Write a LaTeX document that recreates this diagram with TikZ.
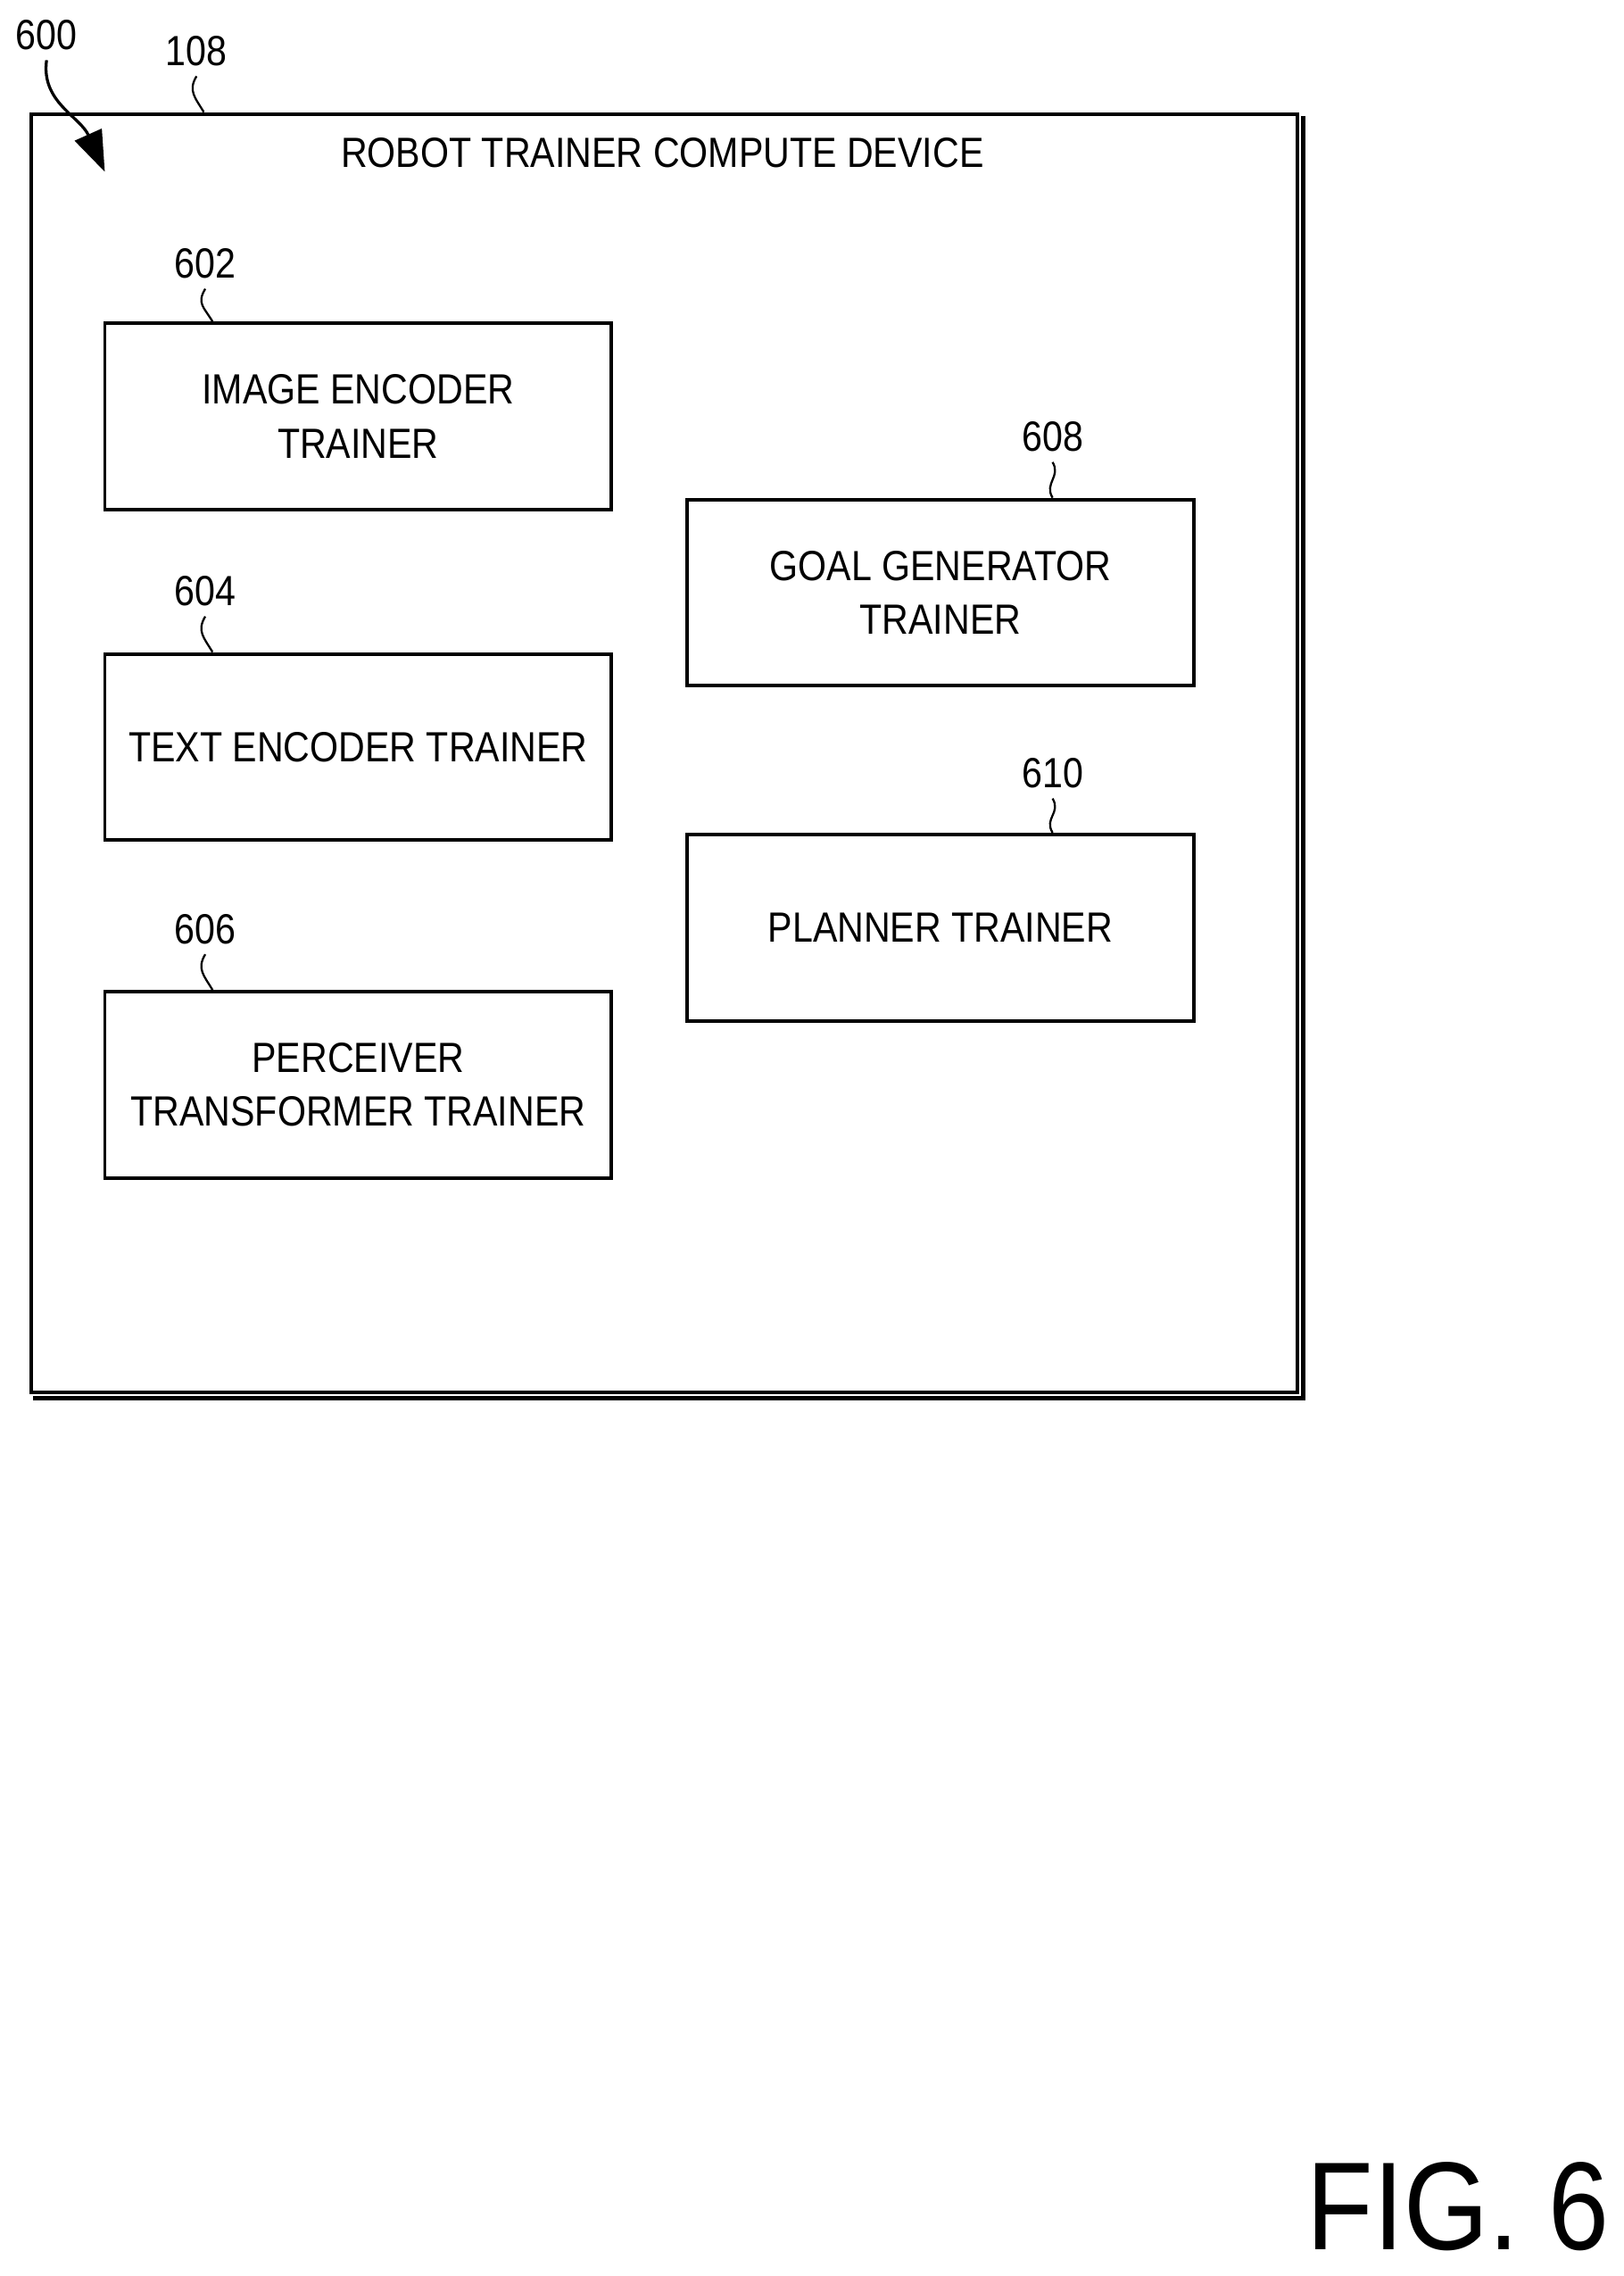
\documentclass[tikz,border=0pt]{standalone}
\usepackage{fontspec}
\setmainfont[FakeStretch=0.87]{Liberation Sans}
\usetikzlibrary{arrows.meta}
\begin{document}
\begin{tikzpicture}[x=0.5pt,y=-0.5pt,
  box/.style={draw,line width=1.2pt,minimum width=174pt,minimum height=64pt,align=center,inner sep=1pt,font=\fontsize{14.5}{18.5}\selectfont,
    append after command={[draw,line width=1.2pt] ([xshift=1.5pt,yshift=-1.5pt]\tikzlastnode.north east) -- ([xshift=1.5pt,yshift=-1.5pt]\tikzlastnode.south east) -- ([xshift=1.5pt,yshift=-1.5pt]\tikzlastnode.south west)}},
  lbl/.style={font=\fontsize{14.5}{16}\selectfont},
  sq/.style={line width=0.7pt}]
\useasboundingbox (0,0) rectangle (1115,1563);
\node[draw,line width=1.3pt,minimum width=435pt,minimum height=439pt,anchor=north west] (dev) at (20,77) {};
\draw[line width=1.3pt] ([xshift=1.3pt,yshift=-1.3pt]dev.north east) -- ([xshift=1.3pt,yshift=-1.3pt]dev.south east) -- ([xshift=1.3pt,yshift=-1.3pt]dev.south west);
\node[lbl] (title) at (455,105) {ROBOT TRAINER COMPUTE DEVICE};
\node[box] (b602) at (246,286) {IMAGE ENCODER\\TRAINER};
\node[box] (b604) at (246,513) {TEXT ENCODER TRAINER};
\node[box] (b606) at (246,745) {PERCEIVER\\TRANSFORMER TRAINER};
\node[box] (b608) at (646,407) {GOAL GENERATOR\\TRAINER};
\node[box] (b610) at (646,637) {PLANNER TRAINER};
\node[lbl] (l602) at (141,181) {602};
\node[lbl] (l604) at (141,406) {604};
\node[lbl] (l606) at (141,638) {606};
\node[lbl] (l608) at (723,300) {608};
\node[lbl] (l610) at (723,531) {610};
\node[lbl] (l108) at (135,35) {108};
\node[lbl] (l600) at (32,24) {600};
\foreach \l/\b in {l602/b602,l604/b604,l606/b606} {
  \draw[sq] (\l.south) .. controls +(-6,10) and +(-6,-10) .. ([xshift=2.5pt]\b.north west-|\l.south);
}
\foreach \l/\b in {l608/b608,l610/b610} {
  \draw[sq] (\l.south) .. controls +(6,10) and +(-6,-10) .. (\l.south|-\b.north);
}
\draw[sq] (l108.south) .. controls +(-6,10) and +(-6,-10) .. ([xshift=2.5pt]l108.south|-dev.north);
\coordinate (a600) at (72,118);
\draw[line width=1pt,-{Triangle[length=14pt,width=10pt]}] (l600.south) .. controls (28,70) and (55,80) .. (a600);
\node[font=\fontsize{43}{43}\selectfont,anchor=east,inner sep=0pt] (fig) at (1106,1515) {FIG. 6};
\end{tikzpicture}
\end{document}
